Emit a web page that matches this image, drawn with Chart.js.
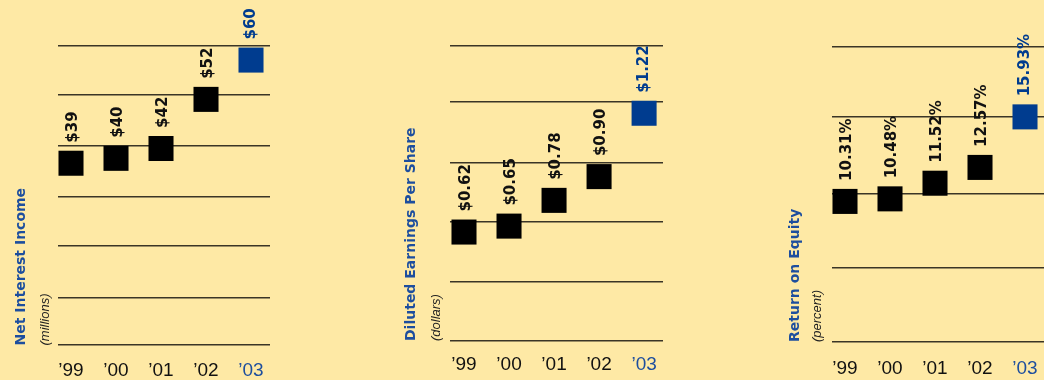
<!DOCTYPE html>
<html>
<head>
<meta charset="utf-8">
<script src="https://cdn.jsdelivr.net/npm/chart.js@4"></script>
<style>
  html, body { margin:0; padding:0; width:1044px; height:380px; overflow:hidden; background:#FEE9A5; }
  canvas { position:absolute; top:0; }
</style>
</head>
<body>
<canvas id="c1" width="300" height="397" style="left:0px"></canvas>
<canvas id="c2" width="300" height="397" style="left:390px"></canvas>
<canvas id="c3" width="290" height="397" style="left:774px"></canvas>
<script>
// ---- data ----
const years = ["\u201999", "\u201900", "\u201901", "\u201902", "\u201903"];
const netInterestIncome = [39, 40, 42, 52, 60];           // $ millions
const dilutedEPS = [0.62, 0.65, 0.78, 0.90, 1.22];         // dollars
const returnOnEquity = [10.31, 10.48, 11.52, 12.57, 15.93]; // percent
const niiGrid = [2.1, 11.7, 22.3, 32.1, 42.5, 52.9, 62.9];
const epsGrid = [0.07, 0.37, 0.67, 0.97, 1.28, 1.56];
const roeGrid = [0.97, 5.88, 10.8, 15.92, 20.58];
const niiLabels = netInterestIncome.map(v => "$" + v);
const epsLabels = dilutedEPS.map(v => "$" + v.toFixed(2));
const roeLabels = returnOnEquity.map(v => v.toFixed(2) + "%");

const BLACK = "#000000";
const BLUE = "#003C8F";
const TITLE_BLUE = "#1D4E9E";
const GRID = "#3a3526";

const valueLabels = {
  id: "valueLabels",
  afterDatasetsDraw(chart, args, opts) {
    const ctx = chart.ctx;
    const meta = chart.getDatasetMeta(0);
    meta.data.forEach((pt, i) => {
      const half = pt.options.radius * Math.SQRT1_2;
      ctx.save();
      ctx.translate(pt.x + (i === 4 ? 0.5 : 2.5), pt.y - half - 8);
      ctx.rotate(-Math.PI / 2);
      ctx.font = "bold 15px 'DejaVu Sans'";
      ctx.fillStyle = i === 4 ? BLUE : "#111111";
      ctx.textAlign = "left";
      ctx.textBaseline = "middle";
      ctx.fillText(opts.texts[i], 0, 0);
      ctx.restore();
    });
  }
};

function makePanel(id, cfg) {
  const colors = cfg.values.map((v, i) => i === 4 ? BLUE : BLACK);
  new Chart(document.getElementById(id), {
    type: "scatter",
    data: {
      datasets: [{
        data: cfg.values.map((v, i) => ({ x: i, y: v })),
        pointStyle: "rect",
        pointRadius: 17.7,
        pointHoverRadius: 17.7,
        pointBorderWidth: 0,
        pointBackgroundColor: colors,
        pointBorderColor: colors,
        clip: false
      }]
    },
    options: {
      responsive: false,
      animation: false,
      events: [],
      layout: { autoPadding: false, padding: { left: 0, top: 0, right: cfg.padRight, bottom: cfg.padBottom } },
      scales: {
        x: {
          type: "linear",
          min: cfg.xMin, max: cfg.xMax,
          afterBuildTicks: s => { s.ticks = years.map((y, i) => ({ value: i })); },
          grid: { display: false, drawTicks: false },
          border: { display: false },
          ticks: {
            autoSkip: false, maxRotation: 0,
            padding: cfg.tickPad,
            font: { family: "'Liberation Sans', Arial, sans-serif", size: 19, lineHeight: 1.0 },
            color: c => c.index === 4 ? TITLE_BLUE : "#111111",
            callback: v => years[v]
          }
        },
        y: {
          type: "linear",
          min: cfg.yMin, max: cfg.yMax,
          afterBuildTicks: s => { s.ticks = cfg.grid.map(v => ({ value: v })); },
          grid: { drawTicks: false, color: GRID, lineWidth: 1.4 },
          border: { display: false },
          ticks: { display: false }
        }
      },
      plugins: {
        legend: { display: false },
        tooltip: { enabled: false },
        title: {
          display: true, text: cfg.title, position: "left", align: "start", fullSize: false,
          color: TITLE_BLUE,
          font: { family: "'DejaVu Sans'", size: 14, weight: "bold", lineHeight: 1.2 },
          padding: { top: 12.6, bottom: 0 }
        },
        subtitle: {
          display: true, text: cfg.unit, position: "left", align: "start", fullSize: false,
          color: "#222222",
          font: { family: "'Liberation Sans', Arial, sans-serif", size: 13, style: "italic", lineHeight: 1.2 },
          padding: { top: cfg.subTop, bottom: cfg.subBottom }
        },
        valueLabels: { texts: cfg.labels }
      }
    },
    plugins: [valueLabels]
  });
}

makePanel("c1", {
  values: netInterestIncome, labels: niiLabels, grid: niiGrid,
  title: "Net Interest Income", unit: "(millions)",
  yMin: 1.896, yMax: 72.23, xMin: -0.289, xMax: 4.422,
  subTop: 7.8, subBottom: 5.2, padRight: 30, padBottom: 0.5, tickPad: 16
});
makePanel("c2", {
  values: dilutedEPS, labels: epsLabels, grid: epsGrid,
  title: "Diluted Earnings Per Share", unit: "(dollars)",
  yMin: 0.0697, yMax: 1.792, xMin: -0.311, xMax: 4.42,
  subTop: 8.8, subBottom: 6.2, padRight: 27, padBottom: 8, tickPad: 14.5
});
makePanel("c3", {
  values: returnOnEquity, labels: roeLabels, grid: roeGrid,
  title: "Return on Equity", unit: "(percent)",
  yMin: 0.964, yMax: 23.70, xMin: -0.289, xMax: 4.422,
  subTop: 6.3, subBottom: 6.7, padRight: 20, padBottom: 2, tickPad: 17
});
</script>
</body>
</html>
